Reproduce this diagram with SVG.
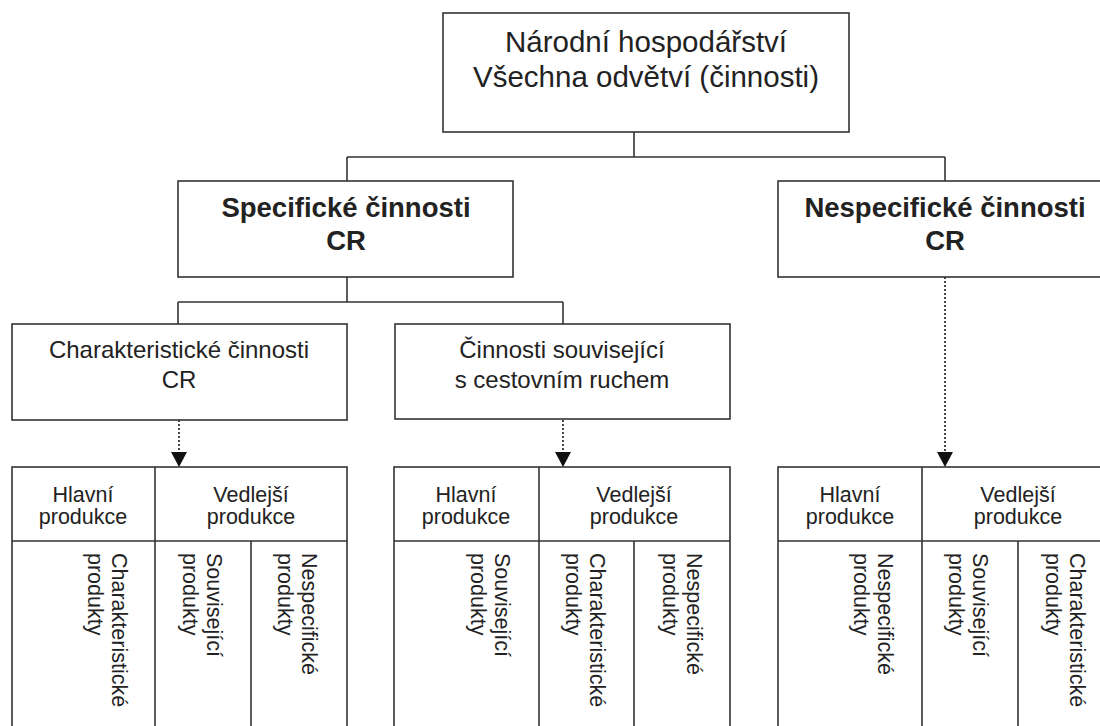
<svg xmlns="http://www.w3.org/2000/svg" width="1100" height="726" viewBox="0 0 1100 726">
<defs>
<style>
.box{fill:#fff;stroke:#333;stroke-width:1.6}
.ln{fill:none;stroke:#333;stroke-width:1.6}
.dot{fill:none;stroke:#333;stroke-width:1.8;stroke-dasharray:2,2}
text{font-family:"Liberation Sans",Arial,sans-serif;fill:#222;text-anchor:middle}
.t1{font-size:29.5px}
.tb{font-size:27.5px;font-weight:bold}
.t2{font-size:24px}
.th{font-size:21.5px}
.tv{font-size:21.5px;text-anchor:start}
</style>
<marker id="arr" viewBox="0 0 16 16" markerWidth="16" markerHeight="16" refX="8" refY="15" orient="auto-start-reverse" markerUnits="userSpaceOnUse">
<path d="M0,0 L16,0 L8,16 Z" fill="#111" transform="rotate(0)"/>
</marker>
</defs>
<rect width="1100" height="726" fill="#fff"/>
<g id="connectors">
<path class="ln" d="M634,132 V157 M347,157 H945 M347,157 V181 M945,157 V181"/>
<path class="ln" d="M347,277 V302 M178,302 H563 M178,302 V324 M563,302 V324"/>
<line class="dot" x1="179" y1="420" x2="179" y2="452"/>
<path d="M171,452 L187,452 L179,467 Z" fill="#111"/>
<line class="dot" x1="563" y1="420" x2="563" y2="452"/>
<path d="M555,452 L571,452 L563,467 Z" fill="#111"/>
<line class="dot" x1="945" y1="277" x2="945" y2="452"/>
<path d="M937,452 L953,452 L945,467 Z" fill="#111"/>
</g>
<g id="narodni">
<rect class="box" x="443" y="13" width="406" height="119"/>
<text class="t1" x="646" y="52">Národní hospodářství</text>
<text class="t1" x="646" y="87">Všechna odvětví (činnosti)</text>
</g>
<g id="specificke">
<rect class="box" x="178" y="181" width="335" height="96"/>
<text class="tb" x="346" y="217">Specifické činnosti</text>
<text class="tb" x="346" y="250">CR</text>
</g>
<g id="nespecificke">
<rect class="box" x="778" y="181" width="334" height="96"/>
<text class="tb" x="945" y="217">Nespecifické činnosti</text>
<text class="tb" x="945" y="250">CR</text>
</g>
<g id="charakteristicke">
<rect class="box" x="12" y="324" width="335" height="96"/>
<text class="t2" x="179" y="358">Charakteristické činnosti</text>
<text class="t2" x="179" y="388">CR</text>
</g>
<g id="souvisejici">
<rect class="box" x="395" y="324" width="335" height="95"/>
<text class="t2" x="562" y="358">Činnosti související</text>
<text class="t2" x="562" y="388">s cestovním ruchem</text>
</g>
<g id="table1">
<rect class="box" x="12" y="467" width="335" height="300"/>
<path class="ln" d="M12,541 H347 M155,467 V767 M251,541 V767"/>
<text class="th" x="83" y="502">Hlavní</text>
<text class="th" x="83" y="524">produkce</text>
<text class="th" x="251" y="502">Vedlejší</text>
<text class="th" x="251" y="524">produkce</text>
<text class="tv" transform="translate(112,553) rotate(90)">Charakteristické<tspan x="0" dy="24">produkty</tspan></text>
<text class="tv" transform="translate(207,553) rotate(90)">Související<tspan x="0" dy="24">produkty</tspan></text>
<text class="tv" transform="translate(302,553) rotate(90)">Nespecifické<tspan x="0" dy="24">produkty</tspan></text>
</g>
<g id="table2">
<rect class="box" x="394" y="467" width="336" height="300"/>
<path class="ln" d="M394,541 H730 M539,467 V767 M634,541 V767"/>
<text class="th" x="466" y="502">Hlavní</text>
<text class="th" x="466" y="524">produkce</text>
<text class="th" x="634" y="502">Vedlejší</text>
<text class="th" x="634" y="524">produkce</text>
<text class="tv" transform="translate(495,553) rotate(90)">Související<tspan x="0" dy="24">produkty</tspan></text>
<text class="tv" transform="translate(590,553) rotate(90)">Charakteristické<tspan x="0" dy="24">produkty</tspan></text>
<text class="tv" transform="translate(687,553) rotate(90)">Nespecifické<tspan x="0" dy="24">produkty</tspan></text>
</g>
<g id="table3">
<rect class="box" x="778" y="467" width="336" height="300"/>
<path class="ln" d="M778,541 H1114 M922,467 V767 M1018,541 V767"/>
<text class="th" x="850" y="502">Hlavní</text>
<text class="th" x="850" y="524">produkce</text>
<text class="th" x="1018" y="502">Vedlejší</text>
<text class="th" x="1018" y="524">produkce</text>
<text class="tv" transform="translate(878,553) rotate(90)">Nespecifické<tspan x="0" dy="24">produkty</tspan></text>
<text class="tv" transform="translate(973,553) rotate(90)">Související<tspan x="0" dy="24">produkty</tspan></text>
<text class="tv" transform="translate(1070,553) rotate(90)">Charakteristické<tspan x="0" dy="24">produkty</tspan></text>
</g>
</svg>
